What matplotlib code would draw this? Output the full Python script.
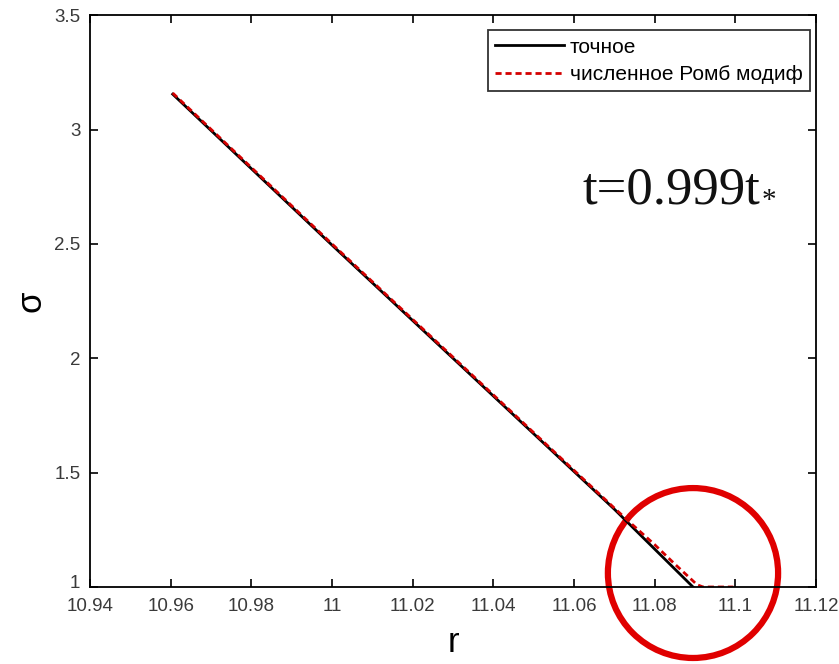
import matplotlib
matplotlib.use("Agg")
import matplotlib.pyplot as plt
from matplotlib.patches import Ellipse
from matplotlib.transforms import ScaledTranslation

# exact solution
r_exact = [10.9605, 11.00, 11.04, 11.07, 11.0895]
s_exact = [3.155, 2.495, 1.835, 1.34, 1.0]

# numerical (modified rhombus scheme)
r_num = [10.9605, 11.00, 11.04, 11.07, 11.074, 11.080, 11.085, 11.0905, 11.092, 11.0995]
s_num = [3.160, 2.500, 1.840, 1.345, 1.28, 1.185, 1.10, 1.01, 1.0, 1.0]

x_ticks = [10.94, 10.96, 10.98, 11.0, 11.02, 11.04, 11.06, 11.08, 11.1, 11.12]
x_labels = ['10.94', '10.96', '10.98', '11', '11.02', '11.04', '11.06', '11.08', '11.1', '11.12']
y_ticks = [1, 1.5, 2, 2.5, 3, 3.5]
y_labels = ['1', '1.5', '2', '2.5', '3', '3.5']

plt.rcParams['font.family'] = ['Liberation Sans', 'DejaVu Sans']

fig = plt.figure(figsize=(8.39, 6.64), dpi=100)
ax = fig.add_axes([0.1073, 0.116, 0.8653, 0.861])

ax.plot(r_exact, s_exact, color='black', lw=2, label='точное')
ax.plot(r_num, s_num, color='#d40000', lw=2, ls=(0, (2.2, 1.4)), label='численное Ромб модиф')

ax.set_xlim(10.94, 11.12)
ax.set_ylim(1, 3.5)
ax.set_xticks(x_ticks)
ax.set_xticklabels(x_labels)
ax.set_yticks(y_ticks)
ax.set_yticklabels(y_labels)
ax.tick_params(direction='in', top=True, right=True, labelsize=13.5, length=6,
               width=1.2, colors='black', labelcolor='#3a3a3a')
ax.tick_params(axis='x', pad=8)
ax.tick_params(axis='y', pad=7)
for sp in ax.spines.values():
    sp.set_linewidth(1.3)

# the "1" sits a little above its tick, as in the original
ylab0 = ax.get_yticklabels()[0]
ylab0.set_transform(ylab0.get_transform() + ScaledTranslation(0, 4 / 72, fig.dpi_scale_trans))

ax.set_xlabel('r', fontsize=25, labelpad=8)
ax.set_ylabel('σ', fontsize=25, labelpad=5)

leg = ax.legend(loc='upper right', fontsize=15, frameon=True, fancybox=False,
                edgecolor='black', bbox_to_anchor=(0.9917, 0.9738), handlelength=3.3,
                handletextpad=0.3, borderpad=0.35, labelspacing=0.4, borderaxespad=0)
leg.get_frame().set_linewidth(1.3)

lbl = ax.text(11.0622, 2.678, 't=0.999t', fontsize=38, family='Liberation Serif',
              ha='left', va='baseline', color='#111111')
ax.annotate('*', xy=(1, 0), xycoords=lbl, xytext=(1, 0), textcoords='offset points',
            fontsize=21, family='Liberation Serif', ha='left', va='bottom', color='#111111')

circle = Ellipse((11.0895, 1.061), 2 * 0.0211, 2 * 0.3715, fill=False,
                 edgecolor='#e00000', lw=4.5, clip_on=False)
ax.add_patch(circle)

fig.savefig('out.png', dpi=100)
